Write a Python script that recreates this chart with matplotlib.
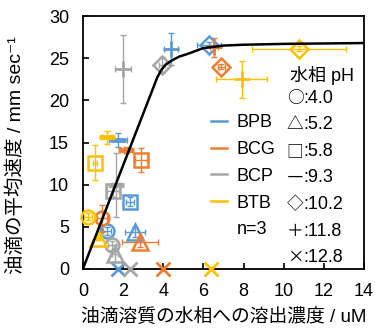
import matplotlib
matplotlib.use('Agg')
import matplotlib.pyplot as plt
from matplotlib.lines import Line2D

plt.rcParams['font.family'] = ['Liberation Sans', 'Noto Sans CJK JP', 'DejaVu Sans']
SYMBOL_FONT = ['Noto Sans CJK JP', 'DejaVu Sans']

# pH legend (one marker per aqueous pH)
PH_VALUES = ["4.0", "5.2", "5.8", "9.3", "10.2", "11.8", "12.8"]
PH_SYMBOLS = ["○", "△", "□", "―", "◇", "＋", "×"]

DYES = ["BPB", "BCG", "BCP", "BTB"]

# values in pH order: 4.0, 5.2, 5.8, 9.3, 10.2, 11.8, 12.8
bpb_x = [1.2, 2.6, 2.35, 1.75, 6.3, 4.4, 1.75]
bpb_y = [4.5, 4.4, 8.0, 15.3, 26.6, 26.1, 0.0]
bpb_xerr = [0.2, 0.5, 0.2, 0.45, 0.6, 0.35, 0.1]
bpb_yerr = [0.5, 0.6, 0.5, 0.8, 0.3, 1.9, 0.0]

bcg_x = [0.95, 2.85, 2.9, 2.15, 6.9, 6.55, 4.0]
bcg_y = [6.0, 3.2, 12.9, 14.1, 24.0, 26.3, 0.0]
bcg_xerr = [0.25, 0.9, 0.3, 0.3, 0.15, 0.2, 0.05]
bcg_yerr = [1.6, 0.6, 1.45, 0.4, 0.3, 1.1, 0.0]

bcp_x = [1.45, 1.6, 1.5, 1.65, 3.93, 2.0, 2.35]
bcp_y = [2.8, 1.8, 9.3, 10.0, 24.2, 23.7, 0.0]
bcp_xerr = [0.2, 0.15, 0.3, 0.2, 0.15, 0.4, 0.1]
bcp_yerr = [0.5, 1.0, 0.8, 3.8, 1.0, 4.0, 0.0]

btb_x = [0.25, 0.75, 0.6, 1.2, 10.75, 7.9, 6.4]
btb_y = [6.2, 3.7, 12.6, 15.6, 26.1, 22.5, 0.0]
btb_xerr = [0.2, 0.1, 0.1, 0.25, 2.35, 1.25, 0.1]
btb_yerr = [0.4, 0.3, 2.05, 0.8, 0.3, 2.2, 0.0]

# fitted curve
fit_x = [0, 3.7, 3.9, 4.1, 4.4, 4.8, 5.2, 6.0, 7.0, 8.0, 10.0, 14.0]
fit_y = [0, 22.7, 23.6, 24.2, 24.7, 25.2, 25.5, 26.2, 26.5, 26.6, 26.7, 26.8]

COLORS = {"BPB": "#5B9BD5", "BCG": "#ED7D31", "BCP": "#A5A5A5", "BTB": "#FFC000"}
MARKERS = ["o", "^", "s", "_", "D", "+", "x"]
MSIZES = [10, 11, 10, 11, 9, 12, 10]
MEWS = [1.8, 1.8, 1.8, 3.5, 1.8, 2.0, 2.0]

DATA = {
    "BPB": (bpb_x, bpb_y, bpb_xerr, bpb_yerr),
    "BCG": (bcg_x, bcg_y, bcg_xerr, bcg_yerr),
    "BCP": (bcp_x, bcp_y, bcp_xerr, bcp_yerr),
    "BTB": (btb_x, btb_y, btb_xerr, btb_yerr),
}

fig = plt.figure(figsize=(3.75, 3.28), dpi=100)
ax = fig.add_axes([0.221, 0.180, 0.750, 0.771])

for dye in DYES:
    xs, ys, xe, ye = DATA[dye]
    c = COLORS[dye]
    ax.errorbar(xs, ys, xerr=xe, yerr=ye, fmt="none", ecolor=c,
                elinewidth=1.0, capsize=2.5, capthick=1.0, zorder=2)
    for i in range(len(xs)):
        ax.plot(xs[i], ys[i], MARKERS[i], color=c, mfc="none", ms=MSIZES[i],
                mew=MEWS[i], zorder=3, clip_on=False)

ax.plot(fit_x, fit_y, color="black", linewidth=1.8, zorder=4)

ax.set_xlim(0, 14)
ax.set_ylim(0, 30)
ax.set_xticks(range(0, 15, 2))
ax.set_yticks(range(0, 31, 5))
ax.tick_params(direction="in", length=4, width=1.2, labelsize=13, pad=10)
for sp in ax.spines.values():
    sp.set_linewidth(1.3)

ax.set_xlabel("油滴溶質の水相への溶出濃度 / uM", fontsize=13.5, labelpad=6)
ax.set_ylabel("油滴の平均速度 / mm sec⁻¹", fontsize=14)
ax.yaxis.set_label_coords(-0.205, 0.45)

handles = [Line2D([0], [0], color=COLORS[d], linewidth=1.8) for d in DYES]
ax.legend(handles, DYES, loc="upper left", bbox_to_anchor=(0.455, 0.613),
          frameon=False, fontsize=13, handlelength=0.9, handletextpad=0.5,
          labelspacing=0.55, borderpad=0, borderaxespad=0)
ax.text(0.548, 0.155, "n=3", transform=ax.transAxes, fontsize=13, va="center")

ax.text(0.737, 0.765, "水相 pH", transform=ax.transAxes, fontsize=13, va="center")
for i, (sym, ph) in enumerate(zip(PH_SYMBOLS, PH_VALUES)):
    y = 0.675 - i * 0.105
    ax.text(0.754, y, sym, transform=ax.transAxes, fontsize=12, va="center",
            ha="center", family=SYMBOL_FONT)
    ax.text(0.785, y, ":" + ph, transform=ax.transAxes, fontsize=13, va="center")

fig.savefig("out.png", dpi=100)
